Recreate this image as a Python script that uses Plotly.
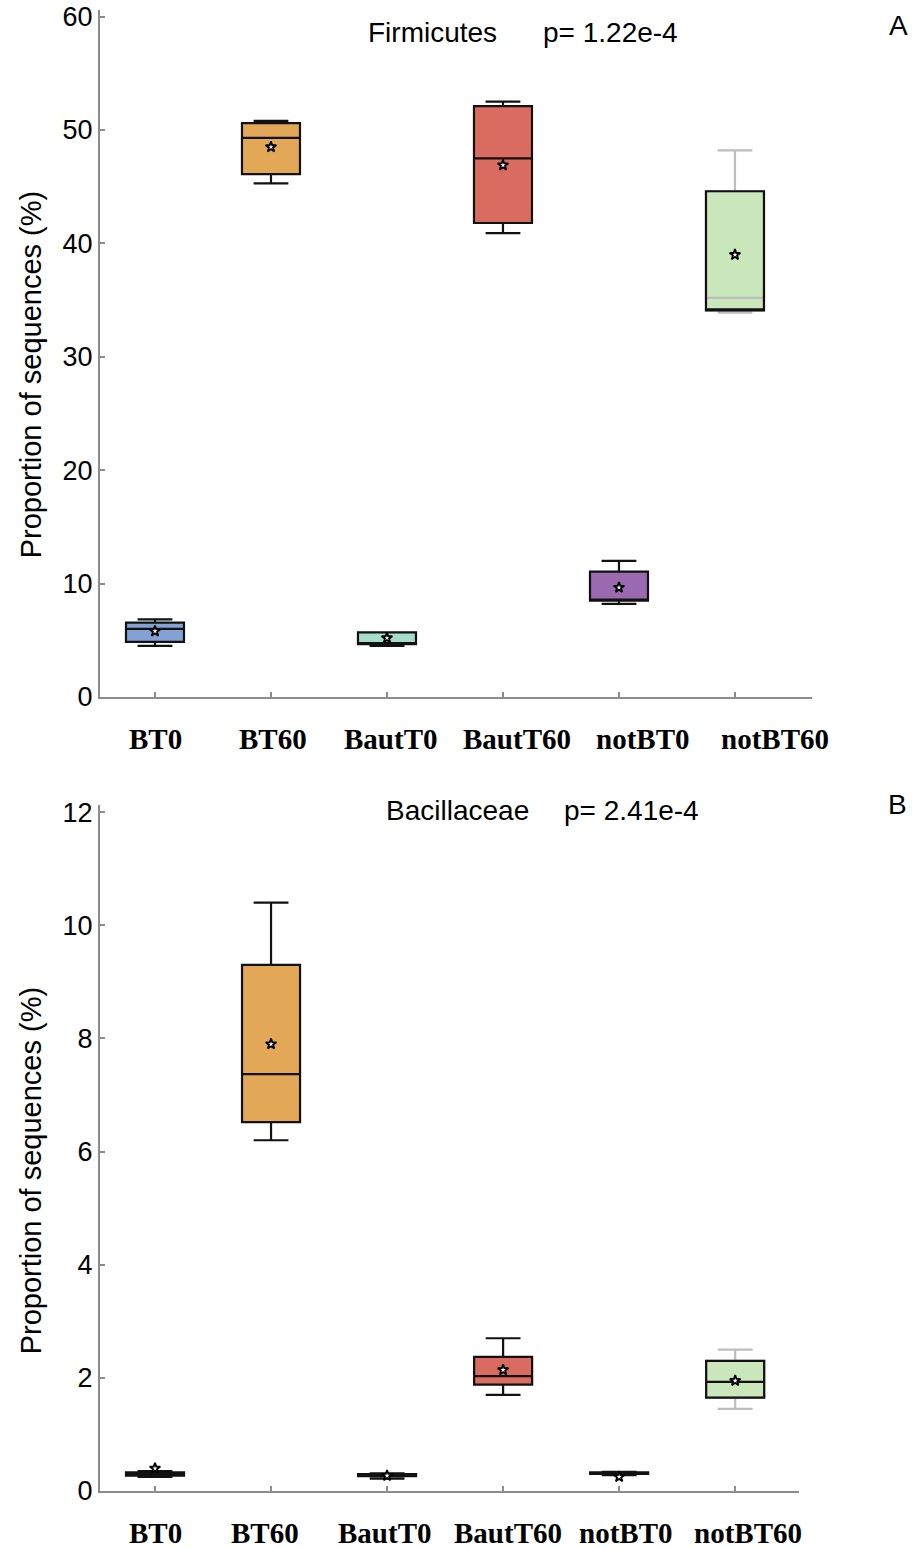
import plotly.graph_objects as go

# ---------------- data ----------------
groups = ["BT0", "BT60", "BautT0", "BautT60", "notBT0", "notBT60"]
colors = ["#83a2d3", "#e2a858", "#a5dcc7", "#d96b61", "#9b69af", "#c9e7bb"]

# Panel A: Firmicutes
fir_lower = [4.5, 45.3, 4.5, 40.9, 8.2, 33.9]
fir_q1 = [4.85, 46.1, 4.65, 41.8, 8.5, 34.1]
fir_median = [6.0, 49.3, 4.75, 47.5, 8.5, 35.2]
fir_q3 = [6.55, 50.6, 5.7, 52.1, 11.05, 44.6]
fir_upper = [6.85, 50.8, 5.7, 52.5, 12.0, 48.2]
fir_mean = [5.8, 48.5, 5.2, 46.9, 9.65, 39.0]

# Panel B: Bacillaceae
bac_lower = [0.25, 6.2, 0.22, 1.70, 0.28, 1.45]
bac_q1 = [0.27, 6.52, 0.26, 1.88, 0.30, 1.65]
bac_median = [0.30, 7.37, 0.27, 2.03, 0.32, 1.93]
bac_q3 = [0.33, 9.3, 0.30, 2.37, 0.33, 2.30]
bac_upper = [0.35, 10.4, 0.31, 2.70, 0.34, 2.50]
bac_mean = [0.40, 7.9, 0.27, 2.14, 0.25, 1.95]

y_ticks_a = [0, 10, 20, 30, 40, 50, 60]
y_ticks_b = [0, 2, 4, 6, 8, 10, 12]

# ---------------- layout helpers ----------------
W, H = 912, 1548
# the page renders the figure slightly compressed vertically; compensate
V_OFF, V_SCALE = 7.2, 0.987


def px(x):
    return x / W


def py(y):
    return 1 - ((y - V_OFF) / V_SCALE) / H


fig = go.Figure()

panels = [
    ("x", "y", fir_lower, fir_q1, fir_median, fir_q3, fir_upper, fir_mean),
    ("x2", "y2", bac_lower, bac_q1, bac_median, bac_q3, bac_upper, bac_mean),
]

for xa, ya, lo, q1, med, q3, up, mn in panels:
    for i, g in enumerate(groups):
        special = g == "notBT60"
        fig.add_trace(go.Box(
            x=[g], q1=[q1[i]], median=[med[i]], q3=[q3[i]],
            lowerfence=[lo[i]], upperfence=[up[i]],
            fillcolor=colors[i],
            line=dict(color="#bdbdbd" if special else "#111111", width=2.2),
            whiskerwidth=0.6, width=0.5,
            boxpoints=False, showlegend=False, hoverinfo="skip",
            xaxis=xa, yaxis=ya,
        ))
        if special:
            # black outline of the box (whisker stems stay light grey)
            fig.add_trace(go.Box(
                x=[g], q1=[q1[i]],
                median=[med[i] if xa == "x2" else q1[i]],
                q3=[q3[i]], lowerfence=[q1[i]], upperfence=[q3[i]],
                fillcolor="rgba(0,0,0,0)",
                line=dict(color="#111111", width=2.2),
                whiskerwidth=0.6, width=0.5,
                boxpoints=False, showlegend=False, hoverinfo="skip",
                xaxis=xa, yaxis=ya,
            ))
    fig.add_trace(go.Scatter(
        x=groups, y=mn, mode="markers",
        marker=dict(symbol="star", size=8, color="white",
                    line=dict(color="black", width=1.8)),
        showlegend=False, hoverinfo="skip", xaxis=xa, yaxis=ya,
    ))

axis_common = dict(
    showline=True, linecolor="#8c8c8c", linewidth=2,
    ticks="inside", tickcolor="#8c8c8c", ticklen=5, tickwidth=1.5,
    showgrid=False, zeroline=False, mirror=False,
)

fig.update_layout(
    width=W, height=H,
    margin=dict(l=0, r=0, t=0, b=0),
    paper_bgcolor="white", plot_bgcolor="white",
    boxmode="overlay",
    font=dict(family="Liberation Sans, Arial, sans-serif", color="black"),
    xaxis=dict(domain=[px(100), px(812)], anchor="y",
               type="category", categoryorder="array", categoryarray=groups,
               range=[-0.474, 5.664], showticklabels=False, **axis_common),
    yaxis=dict(domain=[py(698), py(10)], anchor="x",
               range=[0, 60.6], tickvals=y_ticks_a,
               tickfont=dict(size=27, color="black"), **axis_common),
    xaxis2=dict(domain=[px(100), px(799)], anchor="y2",
                type="category", categoryorder="array", categoryarray=groups,
                range=[-0.474, 5.55], showticklabels=False, **axis_common),
    yaxis2=dict(domain=[py(1493), py(806)], anchor="x2",
                range=[0, 12.13], tickvals=y_ticks_b,
                tickfont=dict(size=27, color="black"), **axis_common),
)

ann = []
# x category labels (placed as in the original figure)
label_x_a = [155, 273, 390, 517, 642, 775]
label_x_b = [155, 265, 384, 508, 625, 748]
for g, xa_px, xb_px in zip(groups, label_x_a, label_x_b):
    for xp, yp in ((xa_px, 740), (xb_px, 1535)):
        ann.append(dict(x=px(xp), y=py(yp), xref="paper", yref="paper",
                        text="<b>" + g + "</b>", showarrow=False,
                        xanchor="center", yanchor="middle",
                        font=dict(family="Liberation Serif, Times New Roman, serif",
                                  size=29, color="black"),
                        ))

title_font = dict(family="Liberation Sans, Arial, sans-serif", size=28, color="black")
for txt, xp, yp in (("Firmicutes", 432, 33), ("p= 1.22e-4", 610, 33),
                    ("Bacillaceae", 458, 812), ("p= 2.41e-4", 631, 812)):
    ann.append(dict(x=px(xp), y=py(yp), xref="paper", yref="paper", text=txt,
                    showarrow=False, xanchor="center", yanchor="middle", font=title_font))
for txt, xp, yp in (("A", 898, 26), ("B", 897, 806)):
    ann.append(dict(x=px(xp), y=py(yp), xref="paper", yref="paper", text=txt,
                    showarrow=False, xanchor="center", yanchor="middle", font=title_font))
for yp in (375, 1172):
    ann.append(dict(x=px(31), y=py(yp), xref="paper", yref="paper",
                    text="Proportion of sequences (%)", textangle=-90,
                    showarrow=False, xanchor="center", yanchor="middle",
                    font=dict(family="Liberation Sans, Arial, sans-serif", size=29,
                              color="black")))

fig.update_layout(annotations=ann)

fig.write_html("out.html")
